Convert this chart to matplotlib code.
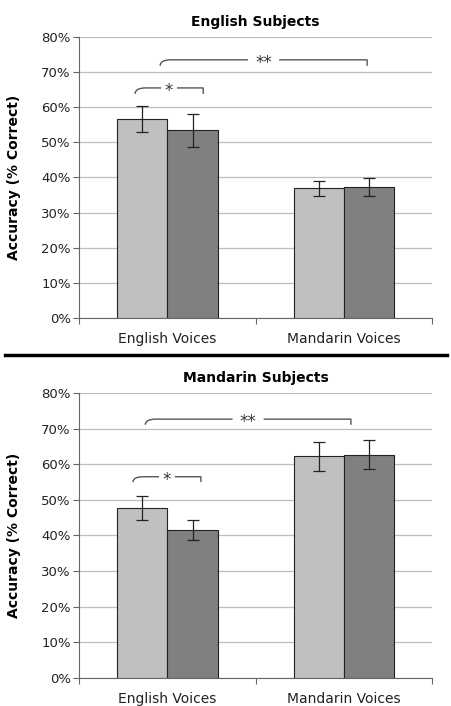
import numpy as np
import matplotlib as mpl
import matplotlib.pyplot as plt
from matplotlib.path import Path
from matplotlib.patches import PathPatch
from matplotlib.lines import Line2D

mpl.rcParams.update({"font.family": "DejaVu Sans", "font.size": 8})

categories = ["English Voices", "Mandarin Voices"]
eng_light = [56.7, 36.9]
eng_light_err = [3.7, 2.2]
eng_dark = [53.4, 37.2]
eng_dark_err = [4.7, 2.6]
man_light = [47.7, 62.3]
man_light_err = [3.5, 4.1]
man_dark = [41.5, 62.7]
man_dark_err = [2.7, 4.1]
yticks = [0, 10, 20, 30, 40, 50, 60, 70, 80]

LIGHT, DARK = "#c0c0c0", "#808080"


def bracket(ax, x0, x1, ytop, yend, label, gap):
    r = 0.06
    xm = (x0 + x1) / 2
    verts = [(x0, yend), (x0, ytop), (x0 + r, ytop), (xm - gap, ytop)]
    codes = [Path.MOVETO, Path.CURVE3, Path.CURVE3, Path.LINETO]
    ax.add_patch(PathPatch(Path(verts, codes), fc="none", ec="#555555", lw=1.0))
    verts = [(xm + gap, ytop), (x1 - r, ytop), (x1, ytop), (x1, yend)]
    ax.add_patch(PathPatch(Path(verts, codes), fc="none", ec="#555555", lw=1.0))
    # '*' sits high in its box, so nudge it down onto the line
    ax.text(xm, ytop - 0.9, label, ha="center", va="center", fontsize=12, color="#333333")


def panel(ax, title, light, light_err, dark, dark_err):
    x = np.arange(len(categories))
    w = 0.285
    ax.bar(x - w / 2, light, w, color=LIGHT, edgecolor="#222222", linewidth=0.8, zorder=3)
    ax.bar(x + w / 2, dark, w, color=DARK, edgecolor="#222222", linewidth=0.8, zorder=3)
    ax.errorbar(x - w / 2, light, yerr=light_err, fmt="none", ecolor="#222222",
                elinewidth=0.9, capsize=4, capthick=0.9, zorder=4)
    ax.errorbar(x + w / 2, dark, yerr=dark_err, fmt="none", ecolor="#222222",
                elinewidth=0.9, capsize=4, capthick=0.9, zorder=4)
    ax.set_xlim(-0.5, 1.5)
    ax.set_ylim(0, 80)
    ax.set_yticks(yticks)
    ax.set_yticklabels([f"{v}%" for v in yticks], fontsize=9.5, color="#222222")
    ax.yaxis.grid(True, color="#bdbdbd", linewidth=0.9, zorder=0)
    ax.set_xticks([-0.5, 0.5, 1.5])
    ax.set_xticklabels([])
    ax.set_xticks(x, minor=True)
    ax.set_xticklabels(categories, minor=True, fontsize=10, color="#222222")
    ax.tick_params(axis="x", which="minor", length=0, pad=10)
    ax.tick_params(axis="x", which="major", length=4, direction="out", color="#666666")
    ax.tick_params(axis="y", length=4, direction="out", color="#666666", pad=2)
    for s in ("top", "right"):
        ax.spines[s].set_visible(False)
    for s in ("left", "bottom"):
        ax.spines[s].set_color("#666666")
    ax.set_ylabel("Accuracy (% Correct)", fontweight="bold", fontsize=10)
    ax.yaxis.set_label_coords(-0.165, 0.5)
    ax.set_title(title, fontweight="bold", fontsize=10, pad=8)


fig = plt.figure(figsize=(4.52, 7.06), dpi=100)
ax1 = fig.add_axes([0.175, 0.5496, 0.781, 0.398])
ax2 = fig.add_axes([0.175, 0.0401, 0.781, 0.403])

panel(ax1, "English Subjects", eng_light, eng_light_err, eng_dark, eng_dark_err)
bracket(ax1, -0.183, 0.203, 65.5, 63.8, "*", 0.045)
bracket(ax1, -0.041, 1.132, 73.5, 71.8, "**", 0.088)

panel(ax2, "Mandarin Subjects", man_light, man_light_err, man_dark, man_dark_err)
bracket(ax2, -0.195, 0.19, 56.5, 55.0, "*", 0.045)
bracket(ax2, -0.125, 1.04, 72.7, 71.1, "**", 0.088)

fig.add_artist(Line2D([0.01, 0.99], [0.4965, 0.4965], color="black", linewidth=2.5,
                      transform=fig.transFigure))

fig.savefig("out.png", dpi=100)
